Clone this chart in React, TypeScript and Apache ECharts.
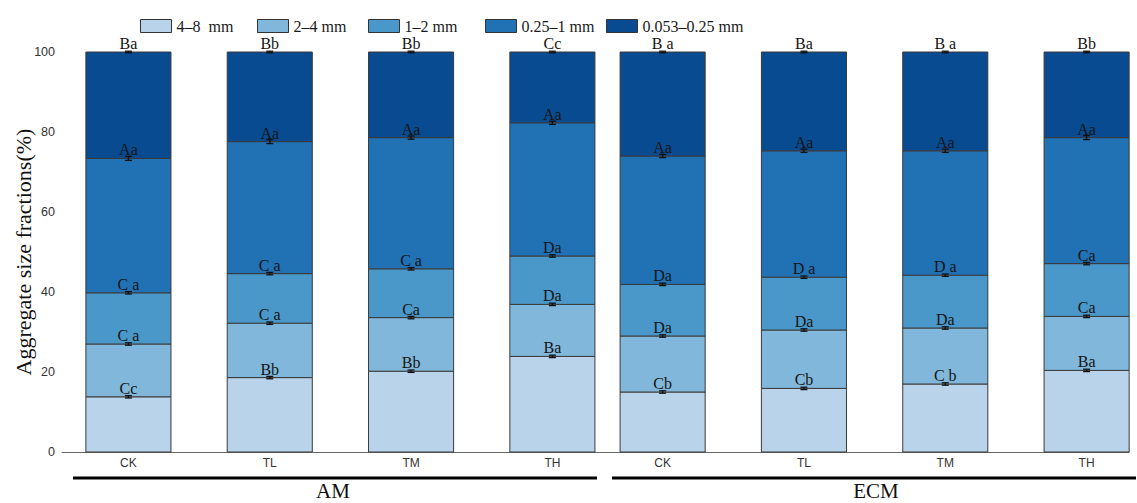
import React, { useEffect, useRef } from "react";
import * as echarts from "echarts";

// Treatments within each amendment group
const treatments = ["CK", "TL", "TM", "TH"];
const groups = ["AM", "ECM"];

const fractionNames = ["4–8  mm", "2–4 mm", "1–2 mm", "0.25–1 mm", "0.053–0.25 mm"];
const fractionColors = ["#b9d4ea", "#80b7da", "#4a98c9", "#2171b5", "#084b91"];

// Share of each aggregate size fraction (%), AM CK..TH then ECM CK..TH
const frac4to8 = [13.8, 18.6, 20.2, 23.9, 15.0, 15.9, 17.0, 20.4];
const frac2to4 = [13.2, 13.6, 13.4, 13.0, 14.0, 14.6, 14.0, 13.5];
const frac1to2 = [12.8, 12.4, 12.2, 12.1, 12.9, 13.2, 13.2, 13.2];
const frac025to1 = [33.6, 33.0, 32.8, 33.3, 32.1, 31.6, 31.1, 31.5];
const frac0053to025 = [26.6, 22.4, 21.4, 17.7, 26.0, 24.7, 24.7, 21.4];

// Standard errors
const err4to8 = [0.3, 0.3, 0.3, 0.3, 0.3, 0.3, 0.3, 0.3];
const err2to4 = [0.3, 0.3, 0.3, 0.3, 0.3, 0.3, 0.3, 0.3];
const err1to2 = [0.3, 0.3, 0.3, 0.3, 0.3, 0.3, 0.3, 0.3];
const err025to1 = [0.5, 0.5, 0.4, 0.4, 0.4, 0.4, 0.4, 0.5];
const err0053to025 = [0.2, 0.2, 0.2, 0.2, 0.2, 0.2, 0.2, 0.2];

// Significance letters
const sig4to8 = ["Cc", "Bb", "Bb", "Ba", "Cb", "Cb", "C b", "Ba"];
const sig2to4 = ["C a", "C a", "Ca", "Da", "Da", "Da", "Da", "Ca"];
const sig1to2 = ["C a", "C a", "C a", "Da", "Da", "D a", "D a", "Ca"];
const sig025to1 = ["Aa", "Aa", "Aa", "Aa", "Aa", "Aa", "Aa", "Aa"];
const sig0053to025 = ["Ba", "Bb", "Bb", "Cc", "B a", "Ba", "B a", "Bb"];

const yTicks = [0, 20, 40, 60, 80, 100];

const fractions = [frac4to8, frac2to4, frac1to2, frac025to1, frac0053to025];
const errors = [err4to8, err2to4, err1to2, err025to1, err0053to025];
const letters = [sig4to8, sig2to4, sig1to2, sig025to1, sig0053to025];

// Layout on the x value axis: one unit per treatment, groups slightly closer together
const GROUP_STRIDE = 3.78;
const BAR_WIDTH = 0.602;
const slotOf = (i: number) => (i % treatments.length) + Math.floor(i / treatments.length) * GROUP_STRIDE;
const slots = frac4to8.map((_, i) => slotOf(i));
const slotLabels = groups.flatMap(() => treatments);

const serif = '"Liberation Serif", "Times New Roman", serif';
const sans = '"Liberation Sans", Arial, sans-serif';

export default function App() {
  const ref = useRef<HTMLDivElement>(null);

  useEffect(() => {
    if (!ref.current) return;
    const chart = echarts.init(ref.current, undefined, { renderer: "svg" });

    // cumulative bounds of every stacked segment
    const bounds = fractions.map((_, f) =>
      slots.map((_, i) => {
        let lo = 0;
        for (let k = 0; k < f; k++) lo += fractions[k][i];
        return [lo, lo + fractions[f][i]];
      })
    );

    const segmentSeries = fractions.map((vals, f) => ({
      name: fractionNames[f],
      type: "custom",
      itemStyle: { color: fractionColors[f], borderColor: "#333", borderWidth: 1 },
      encode: { x: 0, y: [1, 2] },
      data: vals.map((_, i) => [slots[i], bounds[f][i][0], bounds[f][i][1]]),
      renderItem: (params: any, api: any) => {
        const x = api.value(0);
        const lo = api.value(1);
        const hi = api.value(2);
        const pTop = api.coord([x, hi]);
        const pBot = api.coord([x, lo]);
        const w = api.size([BAR_WIDTH, 0])[0];
        return {
          type: "rect",
          shape: { x: pTop[0] - w / 2, y: pTop[1], width: w, height: pBot[1] - pTop[1] },
          style: { fill: fractionColors[f], stroke: "#3a3a3a", lineWidth: 1 },
        };
      },
      z: 2,
    }));

    const annotationData: any[] = [];
    fractions.forEach((_, f) =>
      slots.forEach((s, i) => {
        annotationData.push([s, bounds[f][i][1], errors[f][i], f, i]);
      })
    );

    const annotationSeries = {
      type: "custom",
      name: "annotations",
      encode: { x: 0, y: 1 },
      data: annotationData,
      z: 5,
      silent: true,
      renderItem: (params: any, api: any) => {
        const x = api.value(0);
        const hi = api.value(1);
        const e = api.value(2);
        const f = api.value(3);
        const i = api.value(4);
        const p = api.coord([x, hi]);
        const pUp = api.coord([x, hi + e]);
        const pDn = api.coord([x, hi - e]);
        const cap = 3.5;
        const line = { stroke: "#111", lineWidth: 1.3 };
        return {
          type: "group",
          children: [
            { type: "line", shape: { x1: p[0], y1: pUp[1], x2: p[0], y2: pDn[1] }, style: line },
            { type: "line", shape: { x1: p[0] - cap, y1: pUp[1], x2: p[0] + cap, y2: pUp[1] }, style: line },
            { type: "line", shape: { x1: p[0] - cap, y1: pDn[1], x2: p[0] + cap, y2: pDn[1] }, style: line },
            {
              type: "text",
              x: p[0],
              y: p[1] - 0.5,
              style: {
                text: letters[f][i],
                align: "center",
                verticalAlign: "bottom",
                font: `16px ${serif}`,
                fill: "#151515",
              },
            },
          ],
        };
      },
    };

    const legendLefts = [135, 252, 363, 480, 601];

    chart.setOption({
      animation: false,
      backgroundColor: "#ffffff",
      legend: fractionNames.map((n, f) => ({
        data: [n],
        left: legendLefts[f],
        top: 13,
        icon: "rect",
        itemWidth: 31,
        itemHeight: 13,
        itemGap: 0,
        itemStyle: { borderColor: "#333", borderWidth: 1 },
        textStyle: { fontFamily: serif, fontSize: 16, color: "#1a1a1a" },
        selectedMode: false,
      })),
      grid: { left: 62, right: 8, top: 52, bottom: 51, containLabel: false, outerBoundsMode: "none" },
      xAxis: {
        type: "value",
        min: -0.47,
        max: 7.08,
        splitLine: { show: false },
        axisLine: { show: true, lineStyle: { color: "#666", width: 1 } },
        axisTick: { show: true, inside: true, length: 3, customValues: slots, lineStyle: { color: "#666" } },
        axisLabel: {
          show: true,
          customValues: slots,
          margin: 5,
          fontSize: 12,
          fontFamily: sans,
          color: "#333",
          formatter: (v: number) => {
            let best = 0;
            slots.forEach((s, k) => {
              if (Math.abs(s - v) < Math.abs(slots[best] - v)) best = k;
            });
            return slotLabels[best];
          },
        },
      },
      yAxis: {
        type: "value",
        min: yTicks[0],
        max: yTicks[yTicks.length - 1],
        interval: 20,
        name: "Aggregate size fractions(%)",
        nameLocation: "middle",
        nameGap: 28,
        nameMoveOverlap: false,
        nameTextStyle: { fontFamily: serif, fontSize: 22, color: "#111" },
        splitLine: { show: false },
        axisLine: { show: true, lineStyle: { color: "#666", width: 1 } },
        axisTick: { show: true, inside: false, length: 3, lineStyle: { color: "#666" } },
        axisLabel: { margin: 7, fontSize: 12.5, fontFamily: sans, color: "#333" },
      },
      graphic: [
        { type: "line", shape: { x1: 73, y1: 478, x2: 597, y2: 478 }, style: { stroke: "#000", lineWidth: 3 } },
        { type: "line", shape: { x1: 612, y1: 478, x2: 1136, y2: 478 }, style: { stroke: "#000", lineWidth: 3 } },
        {
          type: "text",
          x: 333,
          y: 491,
          style: { text: groups[0], align: "center", verticalAlign: "middle", font: `21px ${serif}`, fill: "#111" },
        },
        {
          type: "text",
          x: 876,
          y: 491,
          style: { text: groups[1], align: "center", verticalAlign: "middle", font: `21px ${serif}`, fill: "#111" },
        },
      ],
      series: [...segmentSeries, annotationSeries],
    });

    return () => chart.dispose();
  }, []);

  return <div ref={ref} style={{ position: "fixed", left: 0, top: 0, width: 1137, height: 503 }} />;
}
